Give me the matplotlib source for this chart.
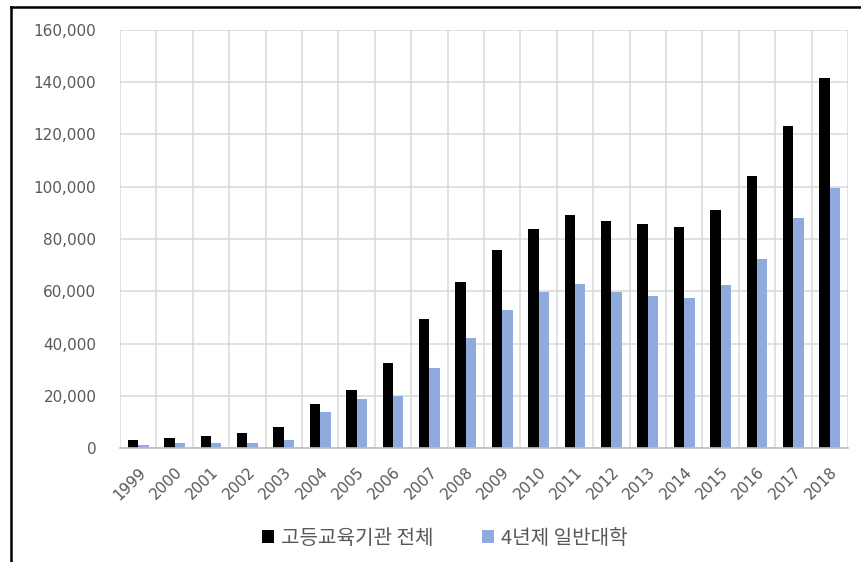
import matplotlib
matplotlib.use("Agg")
import matplotlib.pyplot as plt
from matplotlib.lines import Line2D
from matplotlib.ticker import FuncFormatter, FixedLocator
import numpy as np

plt.rcParams['font.family'] = ['Noto Sans CJK KR', 'DejaVu Sans']

years = ['1999', '2000', '2001', '2002', '2003', '2004', '2005', '2006', '2007', '2008',
         '2009', '2010', '2011', '2012', '2013', '2014', '2015', '2016', '2017', '2018']
all_higher_ed = [3100, 3700, 4500, 5600, 7900, 17000, 22300, 32500, 49300, 63500,
                 75700, 83800, 89200, 86800, 85600, 84500, 91000, 104200, 123300, 141700]
four_year_univ = [1300, 2000, 2000, 2000, 3200, 13900, 18600, 19900, 30600, 42000,
                  52700, 59800, 62900, 59800, 58100, 57500, 62400, 72500, 88000, 99500]
series_names = ['고등교육기관 전체', '4년제 일반대학']
y_ticks = [0, 20000, 40000, 60000, 80000, 100000, 120000, 140000, 160000]

text_gray = '#595959'
grid_gray = '#d9d9d9'

fig = plt.figure(figsize=(8.61, 5.62), dpi=100)
ax = fig.add_axes([120 / 861, 1 - 448 / 562, (848 - 120) / 861, (448 - 30) / 562])

x = np.arange(len(years))
w = 1 / 3.5
ax.bar(x - w / 2, all_higher_ed, width=w, color='#000000', label=series_names[0], zorder=3)
ax.bar(x + w / 2, four_year_univ, width=w, color='#8faadc', label=series_names[1], zorder=3)

ax.set_xlim(-0.5, len(years) - 0.5)
ax.set_ylim(0, 160000)
ax.set_yticks(y_ticks)
ax.yaxis.set_major_formatter(FuncFormatter(lambda v, p: f'{int(v):,}'))
ax.set_xticks(x)
ax.set_xticklabels(years, rotation=45, ha='right', va='top', rotation_mode='anchor')

# category boundary gridlines
ax.xaxis.set_minor_locator(FixedLocator(np.arange(-0.5, len(years), 1.0)))
ax.grid(axis='x', which='minor', color=grid_gray, linewidth=1.1, zorder=0)
ax.grid(axis='y', which='major', color=grid_gray, linewidth=1.1, zorder=0)

for s in ['top', 'right', 'left']:
    ax.spines[s].set_visible(False)
ax.spines['bottom'].set_color('#bfbfbf')
ax.spines['bottom'].set_linewidth(1.2)
ax.spines['bottom'].set_zorder(4)

ax.tick_params(axis='both', which='both', length=0, colors=text_gray)
ax.tick_params(axis='y', labelsize=11, pad=17)
ax.tick_params(axis='x', labelsize=11, pad=12)
for lbl in ax.get_xticklabels() + ax.get_yticklabels():
    lbl.set_family(['DejaVu Sans'])
    lbl.set_color(text_gray)

leg = fig.legend(loc='center', bbox_to_anchor=(445 / 861, 1 - 538 / 562), ncol=2,
                 frameon=False, fontsize=14.5, handlelength=0.6, handleheight=0.6,
                 handletextpad=0.35, columnspacing=2.4)
for t in leg.get_texts():
    t.set_color(text_gray)

# outer frame (left and top edges)
fig.add_artist(Line2D([11 / 861, 11 / 861], [0, 1 - 7 / 562], transform=fig.transFigure,
                      color='#000000', linewidth=1.8))
fig.add_artist(Line2D([11 / 861, 1], [1 - 7 / 562, 1 - 7 / 562], transform=fig.transFigure,
                      color='#000000', linewidth=1.8))

fig.savefig('out.png', dpi=100)
